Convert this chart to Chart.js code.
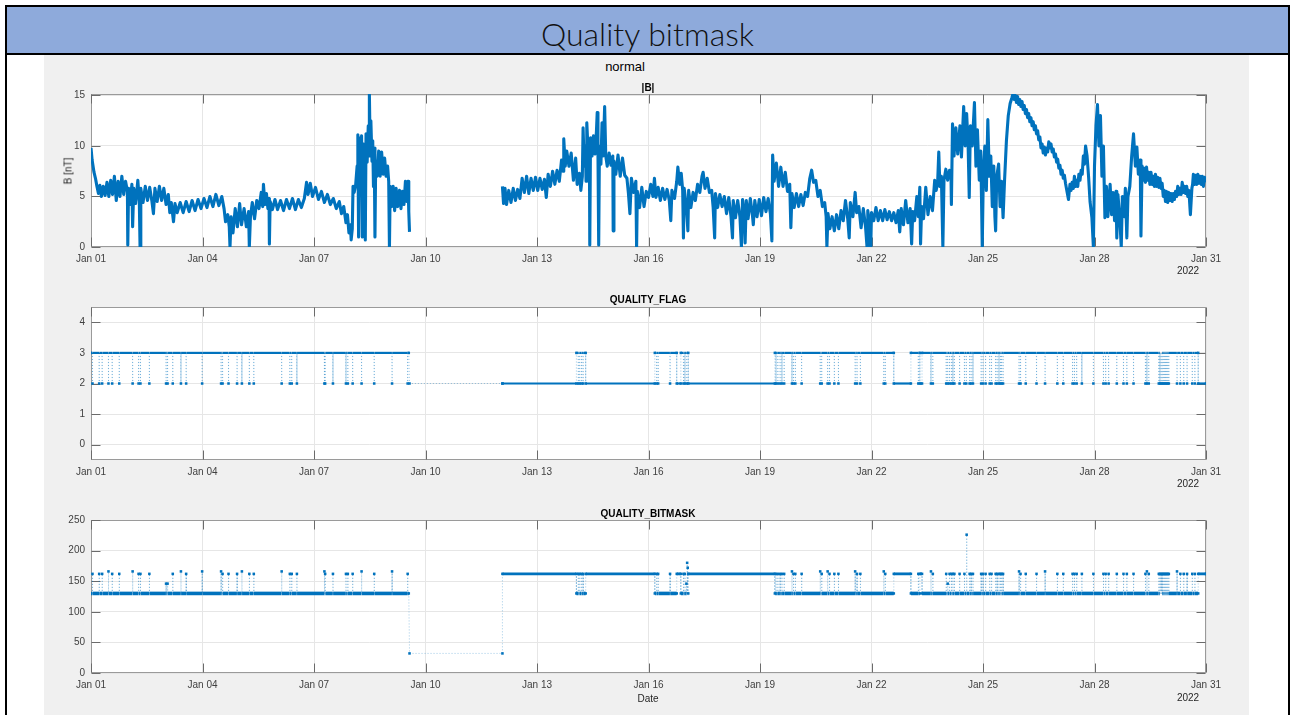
<!DOCTYPE html>
<html><head><meta charset="utf-8">
<script src="https://cdn.jsdelivr.net/npm/chart.js@4.4.1/dist/chart.umd.min.js"></script>
<style>
html,body{margin:0;padding:0;background:#fff;width:1295px;height:715px;overflow:hidden;position:relative;font-family:"Liberation Sans",Arial,sans-serif;}
.abs{position:absolute;}
#hdr{left:5px;top:5px;width:1285px;height:50px;box-sizing:border-box;border:2px solid #000;background:#8eaadb;}
#hdrText{left:5px;top:12px;width:1285px;text-align:center;font-family:Lato,"Open Sans",sans-serif;font-weight:300;font-size:32px;line-height:44px;color:#111;}
#vl{left:5px;top:55px;width:2px;height:660px;background:#000;}
#vr{left:1288px;top:55px;width:2px;height:660px;background:#000;}
#fig{left:44px;top:55px;width:1205px;height:660px;background:#f0f0f0;}
canvas{position:absolute;left:44px;}
.t{position:absolute;transform:translate(-50%,-50%);white-space:nowrap;color:#262626;font-size:10px;}
.b{font-weight:bold;color:#000;}
</style></head><body>
<div id="hdr" class="abs"></div>
<div id="hdrText" class="abs">Quality bitmask</div>
<div id="vl" class="abs"></div>
<div id="vr" class="abs"></div>
<div id="fig" class="abs"></div>
<canvas id="c1" width="1204" height="201" style="top:79px"></canvas>
<canvas id="c2" width="1204" height="201" style="top:292px"></canvas>
<canvas id="c3" width="1204" height="201" style="top:505px"></canvas>
<div class="t" style="left:625px;top:66px;font-size:13px;color:#000">normal</div>
<div class="t b" style="left:648px;top:86.5px">|B|</div>
<div class="t b" style="left:648px;top:298.5px">QUALITY_FLAG</div>
<div class="t b" style="left:648px;top:512.5px">QUALITY_BITMASK</div>
<div class="t" style="left:68px;top:171px;transform:translate(-50%,-50%) rotate(-90deg)">B [nT]</div>
<div class="t" style="left:1188px;top:270px">2022</div>
<div class="t" style="left:1188px;top:483px">2022</div>
<div class="t" style="left:1188px;top:697px">2022</div>
<div class="t" style="left:648px;top:698px">Date</div>
<script>
// ---- axis ticks ----
const xTickDays = [0,3,6,9,12,15,18,21,24,27,30];
const xTickLabels = ['Jan 01','Jan 04','Jan 07','Jan 10','Jan 13','Jan 16','Jan 19','Jan 22','Jan 25','Jan 28','Jan 31'];
const bTicks = [0,5,10,15];
const flagTicks = [0,1,2,3,4];
const maskTicks = [0,50,100,150,200,250];

// ---- |B| [nT], time in days since Jan 01 ----
const bSeg1 = [
[0.00,9.8],[0.03,8.6],[0.08,7.4],[0.12,6.8],[0.16,6.0],[0.20,5.3],[0.24,6.1],[0.28,5.0],[0.33,6.0],[0.38,5.1],[0.43,6.4],[0.48,5.0],[0.53,6.6],[0.58,5.2],[0.63,7.0],[0.68,4.6],[0.73,6.5],[0.78,5.0],[0.83,7.0],[0.88,5.2],[0.93,6.5],
[0.98,5.5],[0.99,0.2],[1.01,5.8],[1.05,4.2],[1.10,6.2],[1.12,2.0],[1.15,5.8],[1.20,4.3],[1.26,6.6],[1.30,4.5],[1.32,0.0],[1.34,5.8],[1.40,4.4],[1.46,6.0],[1.52,4.6],[1.58,5.9],[1.64,4.5],[1.68,3.3],[1.72,5.8],[1.78,4.5],[1.84,6.0],[1.90,4.6],[1.96,5.8],
[2.02,4.2],[2.08,5.2],[2.12,3.4],[2.16,4.4],[2.22,2.5],[2.26,4.3],[2.32,3.4],[2.40,4.4],[2.48,3.4],[2.56,4.5],[2.64,3.5],[2.72,4.6],[2.80,3.6],[2.88,4.7],[2.96,3.8],
[3.04,4.8],[3.12,3.9],[3.20,5.0],[3.28,4.0],[3.36,5.2],[3.44,4.1],[3.52,5.0],[3.58,3.8],[3.62,2.5],[3.68,3.2],[3.72,2.0],[3.74,0.0],[3.77,3.0],[3.82,1.4],[3.88,3.8],[3.94,2.0],[4.00,4.3],[4.05,2.2],[4.12,3.8],[4.18,2.0],[4.24,3.5],[4.26,0.0],[4.29,3.0],[4.34,4.4],[4.40,2.8],[4.46,4.6],[4.52,3.8],[4.58,5.4],[4.62,4.0],[4.64,6.2],[4.68,4.2],[4.72,5.3],[4.76,3.8],[4.79,4.8],[4.80,0.3],[4.82,4.5],[4.88,3.7],
[4.95,4.7],[5.02,3.7],[5.10,4.6],[5.18,3.6],[5.26,4.7],[5.34,3.8],[5.42,4.8],[5.50,3.7],[5.58,4.7],[5.66,3.9],[5.74,4.8],[5.80,6.4],[5.84,5.2],[5.90,6.3],[5.96,5.0],[6.04,5.9],[6.12,4.7],[6.20,5.5],[6.28,4.4],[6.36,5.2],[6.44,4.2],[6.52,4.8],[6.60,3.8],[6.68,4.5],[6.74,3.3],[6.80,4.0],[6.86,2.4],[6.90,3.2],[6.94,1.4],[6.98,2.2],[7.00,0.7],[7.03,1.8],
[7.05,6.0],[7.08,5.4],[7.12,6.1],[7.16,8.0],[7.18,11.1],[7.20,1.0],[7.22,10.8],[7.25,8.4],[7.28,11.0],[7.30,1.0],[7.32,10.2],[7.35,8.5],[7.38,0.7],[7.40,11.2],[7.43,8.4],[7.46,12.0],[7.48,9.0],[7.49,15.1],[7.51,10.0],[7.53,12.5],[7.56,8.5],[7.58,10.5],[7.60,6.0],[7.62,9.8],[7.64,1.0],[7.66,8.5],
[7.70,7.0],[7.74,9.5],[7.78,7.0],[7.82,9.4],[7.86,7.2],[7.90,8.8],[7.94,7.0],[7.98,8.0],[8.01,6.5],[8.03,0.0],[8.05,6.0],[8.09,4.0],[8.13,6.0],[8.17,3.6],[8.21,5.8],[8.25,4.0],[8.30,5.6],[8.34,3.8],[8.38,5.5],[8.42,4.2],[8.46,6.5],[8.50,4.5],[8.53,6.5],[8.55,3.5],[8.57,1.5]
];
const bSeg2 = [
[11.07,6.0],[11.10,4.3],[11.14,5.8],[11.18,4.2],[11.24,5.6],[11.30,4.4],[11.36,5.8],[11.42,4.6],[11.48,5.7],[11.54,4.8],[11.60,6.8],[11.66,5.4],[11.72,7.0],[11.78,5.3],[11.84,6.8],[11.90,5.6],[11.96,6.9],[12.02,5.6],[12.08,6.8],[12.14,5.7],[12.20,6.7],[12.25,4.9],[12.30,7.2],[12.36,6.0],[12.42,7.5],[12.48,6.2],[12.54,7.6],[12.60,6.5],[12.66,8.6],[12.70,7.5],[12.72,10.7],[12.76,8.0],[12.80,9.5],[12.86,8.0],[12.92,9.3],[12.98,6.6],[13.04,8.8],[13.08,6.2],[13.14,7.3],[13.18,5.6],[13.22,7.0],[13.24,11.8],[13.27,8.0],[13.30,10.0],[13.32,6.5],[13.34,12.3],[13.38,9.0],[13.41,10.5],[13.42,0.2],[13.44,10.8],[13.48,9.0],[13.52,11.0],[13.56,9.2],[13.60,11.5],[13.62,13.3],[13.64,9.5],[13.66,0.2],[13.68,10.0],[13.72,8.2],[13.75,12.3],[13.78,9.0],[13.82,13.9],[13.85,9.0],[13.89,8.0],[13.94,9.3],[13.99,8.1],[14.04,9.0],[14.05,1.6],[14.07,8.5],[14.12,7.2],[14.18,9.1],[14.24,7.0],[14.30,8.8],[14.36,7.1],[14.42,6.8],[14.46,5.3],[14.50,3.3],[14.54,6.8],[14.60,5.4],[14.66,6.5],[14.68,0.0],[14.70,5.5],[14.76,3.9],[14.82,5.9],[14.88,4.0],[14.94,5.5],
[15.00,4.9],[15.06,6.2],[15.12,5.0],[15.16,6.8],[15.20,4.9],[15.26,5.9],[15.32,4.6],[15.38,5.8],[15.44,4.7],[15.50,5.7],[15.56,4.6],[15.60,2.6],[15.63,5.6],[15.70,4.8],[15.76,6.5],[15.79,7.9],[15.84,6.2],[15.88,7.3],[15.92,5.6],[15.94,0.9],[15.96,5.8],[16.02,4.0],[16.06,1.6],[16.08,5.6],[16.14,3.9],[16.20,5.4],[16.26,4.6],[16.32,6.2],[16.38,5.4],[16.44,7.0],[16.47,7.4],[16.52,5.8],[16.58,6.8],[16.64,5.4],[16.70,5.6],[16.74,3.9],[16.78,0.9],[16.80,5.3],[16.86,3.9],[16.92,5.2],[16.98,4.0],
[17.04,5.0],[17.10,3.3],[17.16,4.9],[17.22,3.0],[17.26,0.9],[17.28,4.6],[17.34,2.9],[17.40,4.6],[17.46,3.0],[17.50,0.0],[17.53,4.7],[17.58,3.0],[17.60,0.4],[17.63,4.6],[17.68,2.8],[17.74,4.8],[17.80,3.0],[17.82,2.2],[17.86,4.6],[17.92,3.0],[17.98,4.7],[18.04,3.1],[18.10,4.9],[18.16,3.5],[18.22,4.8],[18.28,3.3],[18.32,0.6],[18.34,9.1],[18.38,6.5],[18.44,8.3],[18.50,6.0],[18.56,7.9],[18.62,6.0],[18.68,7.4],[18.74,5.5],[18.80,6.2],[18.83,1.9],[18.86,5.3],[18.92,3.9],[18.98,5.3],
[19.04,4.0],[19.10,5.2],[19.16,4.1],[19.22,5.4],[19.28,5.0],[19.34,6.8],[19.39,7.6],[19.44,6.4],[19.50,6.6],[19.56,5.0],[19.62,5.6],[19.68,4.0],[19.74,4.4],[19.78,3.0],[19.80,0.0],[19.83,3.3],[19.88,1.8],[19.94,3.0],[20.00,1.6],[20.06,3.2],[20.12,1.8],[20.18,3.6],[20.24,2.6],[20.30,4.6],[20.36,2.8],[20.40,0.9],[20.43,4.4],[20.50,3.0],[20.56,5.4],[20.60,3.4],[20.66,4.0],[20.72,1.9],[20.78,3.8],[20.84,2.0],[20.88,0.0],[20.90,3.6],[20.96,2.0],[20.98,0.0],
[21.00,3.4],[21.06,2.6],[21.12,3.9],[21.18,2.6],[21.24,3.6],[21.30,2.6],[21.36,3.7],[21.42,2.7],[21.48,3.5],[21.54,2.6],[21.60,3.4],[21.66,2.4],[21.72,3.6],[21.76,1.5],[21.80,3.8],[21.86,2.2],[21.92,4.6],[21.98,2.4],[22.04,3.8],[22.08,0.3],[22.11,3.5],[22.16,2.6],[22.22,5.0],[22.26,3.0],[22.30,5.9],[22.32,0.3],[22.35,4.0],[22.40,2.8],[22.46,5.9],[22.52,3.2],[22.58,5.0],[22.64,3.6],[22.70,6.6],[22.74,5.6],[22.78,6.4],[22.81,9.4],[22.84,6.0],[22.88,7.0],[22.92,0.0],[22.95,6.6],
[23.00,7.7],[23.05,6.6],[23.10,7.6],[23.14,6.8],[23.15,4.2],[23.18,12.2],[23.22,9.0],[23.27,11.8],[23.32,9.2],[23.38,12.0],[23.42,8.9],[23.48,13.9],[23.52,10.0],[23.56,13.2],[23.60,10.0],[23.63,4.9],[23.66,12.0],[23.71,10.0],[23.77,14.3],[23.81,8.0],[23.85,11.6],[23.90,6.6],[23.94,9.5],[23.98,0.0],
[24.01,7.5],[24.05,10.0],[24.09,5.6],[24.13,12.6],[24.17,7.0],[24.21,9.0],[24.25,4.0],[24.29,8.0],[24.32,3.0],[24.34,1.6],[24.37,7.0],[24.42,8.2],[24.46,4.0],[24.50,6.5],[24.54,2.9],[24.58,6.6],[24.63,10.5],[24.68,13.0],[24.73,14.2],[24.78,14.8],
[24.81,15.2],[24.84,14.6],[24.87,15.0],[24.90,14.3],[24.93,14.9],[24.96,14.1],[24.99,14.6],[25.02,13.9],[25.05,14.4],[25.08,13.6],[25.11,14.0],[25.14,13.2],[25.17,13.6],[25.20,12.8],[25.23,13.2],[25.26,12.4],[25.29,12.8],[25.32,12.0],[25.35,12.4],[25.38,11.6],[25.41,12.0],[25.44,11.2],[25.47,11.5],[25.50,10.6],[25.53,10.9],[25.56,9.8],[25.59,10.2],[25.62,9.3],[25.65,9.9],[25.68,9.1],[25.71,9.8],[25.74,9.4],[25.77,10.4],[25.80,9.8],[25.83,10.2],[25.86,9.4],[25.89,9.7],[25.92,8.9],[25.95,9.2],[25.98,8.4],[26.01,8.7],[26.04,7.8],[26.07,8.1],[26.10,7.2],[26.13,7.6],[26.16,6.8],[26.19,7.1],[26.22,6.3],
[26.26,5.5],[26.30,4.7],[26.34,6.2],[26.37,5.6],[26.40,6.4],[26.43,5.8],[26.46,7.0],[26.49,6.0],[26.52,6.6],[26.55,6.0],[26.58,7.2],[26.61,6.6],[26.64,7.6],[26.67,7.2],[26.70,9.0],[26.73,8.2],[26.76,10.0],[26.80,9.0],[26.84,7.0],[26.88,4.5],[26.93,2.9],[26.97,0.0],
[27.00,8.0],[27.04,12.0],[27.08,14.1],[27.12,10.0],[27.16,13.0],[27.20,7.0],[27.24,10.0],[27.28,2.9],[27.32,6.0],[27.36,3.0],[27.42,6.2],[27.46,3.2],[27.50,5.4],[27.54,2.6],[27.58,5.5],[27.60,0.9],[27.63,5.2],[27.68,2.8],[27.72,0.0],[27.75,5.0],[27.80,3.0],[27.83,5.8],[27.87,0.9],[27.90,5.0],[27.95,6.0],
[28.00,9.0],[28.05,11.2],[28.10,8.0],[28.14,9.9],[28.18,7.2],[28.23,8.6],[28.25,1.1],[28.28,8.0],[28.31,6.6],[28.34,7.8],[28.37,6.4],[28.40,7.9],[28.43,6.6],[28.46,7.4],[28.49,6.2],[28.52,7.4],[28.55,6.2],[28.58,7.0],[28.61,6.0],[28.64,7.2],[28.67,6.0],[28.70,6.9],[28.73,5.9],[28.76,6.8],[28.79,5.8],[28.82,6.3],[28.85,5.0],[28.88,5.6],[28.91,4.5],[28.94,5.5],[28.97,4.4],
[29.00,5.4],[29.03,4.6],[29.06,5.3],[29.09,4.5],[29.12,5.3],[29.15,4.7],[29.18,5.5],[29.21,5.0],[29.24,6.0],[29.27,5.2],[29.30,5.8],[29.33,5.2],[29.36,6.4],[29.39,5.4],[29.42,6.0],[29.45,5.3],[29.48,6.0],[29.51,5.0],[29.54,5.6],[29.58,3.2],[29.62,5.8],[29.64,6.2],[29.66,7.2],[29.69,6.2],[29.72,7.1],[29.75,6.2],[29.78,7.2],[29.81,6.3],[29.84,7.0],[29.87,6.2],[29.90,7.0],[29.93,6.0],[29.96,6.9],[30.00,6.4]
];

// ---- QUALITY_FLAG: constant runs [start, end, value] and brief dips to 2 ----
const gapSpan = [8.57, 11.07];
const flagRuns = [
[0.00,8.55,3],[8.57,11.07,2],[11.07,13.06,2],[13.06,13.31,3],[13.31,15.17,2],[15.17,15.76,3],[15.76,15.87,2],[15.87,16.07,3],
[16.07,18.40,2],[18.40,21.60,3],[21.60,22.06,2],[22.06,22.30,3],[22.30,22.36,2],[22.36,29.79,3],[29.79,30.00,2]
];
const flagDips = [
0.04,0.22,0.30,0.47,0.57,0.76,1.12,1.28,1.33,1.57,2.02,2.06,2.20,2.42,2.56,2.99,3.50,3.54,3.70,3.93,4.06,4.26,4.38,5.13,5.35,5.40,5.54,6.28,6.30,6.51,6.86,6.91,7.04,7.28,7.62,8.10,8.52,
13.11,13.15,13.20,13.24,15.22,15.26,15.58,15.94,15.98,16.03,
18.43,18.48,18.54,18.59,18.65,18.86,18.90,18.95,19.12,19.62,19.66,19.82,19.87,20.00,20.11,20.56,20.61,20.70,21.33,21.37,22.26,
22.60,22.65,23.01,23.05,23.10,23.15,23.19,23.23,23.37,23.50,23.55,23.64,23.68,23.73,23.95,24.00,24.07,24.18,24.23,24.34,24.38,24.43,24.47,24.50,24.54,
24.97,25.01,25.15,25.44,25.67,26.00,26.16,26.41,26.46,26.52,26.66,26.97,27.24,27.30,27.38,27.60,27.78,27.87,28.05,28.37,28.41,28.46,
28.73,28.76,28.79,28.82,28.85,28.88,28.91,28.94,28.97,29.00,29.22,29.31,29.40,29.49,29.63,29.70
];

// ---- QUALITY_BITMASK: runs and spikes [time, value] ----
const maskRuns = [
[0.00,8.55,130],[8.57,11.07,32],[11.07,13.06,162],[13.06,13.31,130],[13.31,15.17,162],[15.17,15.76,130],[15.76,15.87,162],[15.87,16.07,130],
[16.07,18.40,162],[18.40,21.60,130],[21.60,22.06,162],[22.06,22.30,130],[22.30,22.36,162],[22.36,29.79,130],[29.79,30.00,162]
];
const maskSpikes = [
[0.04,162],[0.22,162],[0.30,162],[0.47,166],[0.57,162],[0.76,162],[1.12,166],[1.28,162],[1.33,162],[1.57,162],[2.02,146],[2.06,146],[2.20,162],[2.42,166],[2.56,162],[2.99,166],
[3.50,166],[3.54,162],[3.70,162],[3.93,162],[4.06,166],[4.26,162],[4.38,162],[5.13,166],[5.35,162],[5.40,162],[5.54,162],[6.28,166],[6.30,162],[6.51,162],[6.86,162],[6.91,162],
[7.04,162],[7.28,166],[7.62,162],[8.10,166],[8.52,162],
[13.11,162],[13.15,162],[13.20,162],[13.24,162],[15.22,162],[15.26,162],[15.58,162],[15.94,162],[15.98,162],[16.02,146],[16.04,180],[16.055,172],
[18.43,162],[18.48,162],[18.54,162],[18.59,162],[18.65,162],[18.86,166],[18.90,162],[18.95,162],[19.12,162],[19.62,166],[19.66,162],[19.82,166],[19.87,162],[20.00,162],[20.11,162],
[20.56,166],[20.61,162],[20.70,162],[21.33,166],[21.37,162],[22.26,162],
[22.60,166],[22.65,162],[23.01,162],[23.05,146],[23.10,162],[23.15,162],[23.19,162],[23.23,162],[23.37,162],[23.50,162],[23.56,226],[23.64,162],[23.68,162],[23.73,162],[23.95,162],[24.00,162],
[24.07,162],[24.18,162],[24.23,162],[24.34,162],[24.38,162],[24.43,162],[24.47,162],[24.50,162],[24.54,162],[24.97,166],[25.01,162],[25.15,162],[25.44,162],[25.67,166],[26.00,162],[26.16,162],
[26.41,162],[26.46,162],[26.52,162],[26.66,162],[26.97,162],[27.24,162],[27.30,162],[27.38,162],[27.60,162],[27.78,162],[27.87,162],[28.05,162],[28.37,162],[28.41,166],[28.46,162],
[28.73,162],[28.76,162],[28.79,162],[28.82,162],[28.85,162],[28.88,162],[28.91,162],[28.94,162],[28.97,162],[29.00,162],[29.22,166],[29.31,162],[29.40,162],[29.49,162],[29.63,162],[29.70,162]
];

// ---- helpers ----
const BLUE = '#0072BD';
const EPS = 0.004;
function buildSeries(runs, blips){
  const pts = [];
  runs.forEach(([s,e,v]) => { pts.push({x:s,y:v,m:1,k:pts.length}); pts.push({x:e,y:v,m:1,k:pts.length}); });
  blips.forEach(([t,v]) => {
    const r = runs.find(([s,e]) => t > s && t < e);
    if (!r) return;
    pts.push({x:t-EPS,y:r[2],k:pts.length});
    pts.push({x:t,y:v,m:1,k:pts.length});
    pts.push({x:t+EPS,y:r[2],k:pts.length});
  });
  pts.sort((a,b) => (a.x-b.x) || (a.k-b.k));
  return pts;
}
function isSolid(c){
  const a = c.p0.parsed, b = c.p1.parsed;
  const gap = a.x >= gapSpan[0]-1e-6 && b.x <= gapSpan[1]+1e-6 && b.x > a.x;
  return a.y === b.y && !gap;
}
const tickFont = {family:'"Liberation Sans", Arial, sans-serif', size:10};
const TICKCOL = '#404040';

const matlabAxes = {
  id:'matlabAxes',
  beforeDraw(chart){
    const {ctx, chartArea:a} = chart;
    ctx.save();
    ctx.fillStyle = '#ffffff';
    ctx.fillRect(a.left, a.top, a.right-a.left, a.bottom-a.top);
    ctx.restore();
  },
  beforeDatasetsDraw(chart){
    const {ctx, chartArea:a, scales} = chart;
    const L = Math.round(a.left)+0.5, R = Math.round(a.right)-0.5, T = Math.round(a.top)+0.5, B = Math.round(a.bottom)-0.5;
    ctx.save();
    ctx.strokeStyle = '#9a9a9a'; ctx.lineWidth = 1;
    ctx.strokeRect(L, T, R-L, B-T);
    ctx.strokeStyle = '#6b6b6b';
    ctx.beginPath();
    scales.x.ticks.forEach(t => {
      const px = Math.round(scales.x.getPixelForValue(t.value))+0.5;
      ctx.moveTo(px, B); ctx.lineTo(px, B-9);
      ctx.moveTo(px, T); ctx.lineTo(px, T+9);
    });
    scales.y.ticks.forEach(t => {
      const py = Math.round(scales.y.getPixelForValue(t.value))+0.5;
      ctx.moveTo(L, py); ctx.lineTo(L+9, py);
      ctx.moveTo(R, py); ctx.lineTo(R-9, py);
    });
    ctx.stroke();
    ctx.restore();
  }
};

function makeChart(id, datasets, yMin, yMax, yTicks){
  return new Chart(document.getElementById(id), {
    type:'line',
    data:{datasets},
    options:{
      responsive:false, animation:false, devicePixelRatio:1,
      layout:{padding:{top:15,right:42,left:0,bottom:0}},
      plugins:{legend:{display:false}, tooltip:{enabled:false}, title:{display:false}},
      elements:{line:{tension:0}},
      scales:{
        x:{type:'linear', min:0, max:30,
          afterBuildTicks: s => { s.ticks = xTickDays.map(v => ({value:v})); },
          afterFit: s => { s.height = 33; },
          grid:{color:'#e6e6e6', drawTicks:false}, border:{display:false},
          ticks:{padding:6, color:TICKCOL, font:tickFont, maxRotation:0, autoSkip:false,
            callback: v => xTickLabels[xTickDays.indexOf(v)]}},
        y:{type:'linear', min:yMin, max:yMax,
          afterBuildTicks: s => { s.ticks = yTicks.map(v => ({value:v})); },
          afterFit: s => { s.width = 47; },
          grid:{color:'#e6e6e6', drawTicks:false}, border:{display:false},
          ticks:{padding:6, color:TICKCOL, font:tickFont, callback: v => String(v)}}
      }
    },
    plugins:[matlabAxes]
  });
}

const toXY = arr => arr.map(([x,y]) => ({x,y}));
const bDs = seg => ({data:toXY(seg), borderColor:BLUE, borderWidth:3.1, pointRadius:0, borderJoinStyle:'round', fill:false});
makeChart('c1', [bDs(bSeg1), bDs(bSeg2)], 0, 15.14, bTicks);

function stepDs(pts, wFn){
  return {
    data:pts, borderColor:BLUE, borderWidth:2, fill:false, borderJoinStyle:'round',
    pointStyle:'rect', pointRadius: c => (c.raw && c.raw.m) ? 1.8 : 0,
    pointBackgroundColor:BLUE, pointBorderColor:BLUE, pointBorderWidth:0,
    segment:{
      borderColor: c => isSolid(c) ? BLUE : 'rgba(0,114,189,0.42)',
      borderWidth: c => isSolid(c) ? wFn(c.p0.parsed.y) : 0.9,
      borderDash: c => isSolid(c) ? [] : [1,2]
    }
  };
}
const flagPts = buildSeries(flagRuns, flagDips.map(t => [t,2]));
makeChart('c2', [stepDs(flagPts, () => 2.2)], -0.5, 4.5, flagTicks);
const maskPts = buildSeries(maskRuns, maskSpikes);
makeChart('c3', [stepDs(maskPts, y => y < 140 ? 3.6 : 2.8)], 0, 250, maskTicks);
</script>
</body></html>
